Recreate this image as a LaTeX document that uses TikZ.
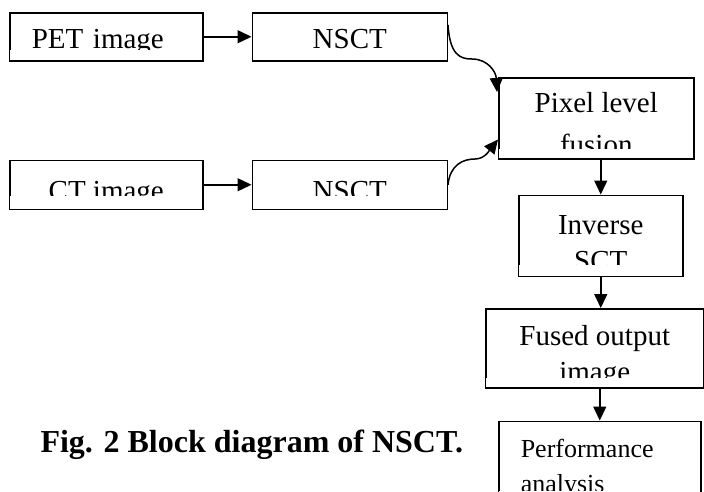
\documentclass[tikz,border=0pt]{standalone}
\usepackage{fontspec}
\setmainfont{Liberation Serif}
\usepackage{tikz}
\usetikzlibrary{arrows.meta,positioning,calc}

\tikzset{
    block/.style={draw, line width=1.5pt, inner xsep=0pt, inner ysep=0pt,
        font=\fontsize{29}{36}\selectfont, align=center,
        text height=36pt, text depth=12pt, minimum height=48pt},
    tall/.style={text height=74pt, text depth=7pt, minimum height=81pt},
    link/.style={->, line width=1.5pt}
}

\begin{document}
\begin{tikzpicture}[x=1pt,y=1pt,>={Triangle[length=14pt,width=13pt]}]
    \useasboundingbox (0,0) rectangle (704,-491);

    % input branch
    \node [block, minimum width=193pt, text width=149pt, align=left] (pet) [anchor=north west] at (9,-12) {PET image};
    \node [block, minimum width=195pt] (nsctA) [right=48pt of pet] {NSCT};
    \node [block, minimum width=193pt, text height=40pt, text depth=9pt] (ct) [below=98pt of pet] {CT image};
    \node [block, minimum width=195pt, text height=40pt, text depth=9pt] (nsctB) [right=48pt of ct] {NSCT};

    % fusion chain
    \node [block, tall, minimum width=195pt, text height=77pt, text depth=4pt, font=\fontsize{29}{42}\selectfont] (pix) [anchor=north west] at (498,-77) {Pixel level\\fusion};
    \node [block, tall, minimum width=164pt, text height=75pt, text depth=6pt] (inv) [below=35pt of pix, xshift=4.5pt] {Inverse\\SCT};
    \node [block, tall, minimum width=218pt, text height=73pt, text depth=6pt, minimum height=79pt] (fused) [below=31pt of inv, xshift=-6pt] {Fused output\\image};
    % with a text width the first line sets the height
    \node [block, tall, minimum width=202pt, text height=36pt, text depth=45pt, text width=158pt, align=left, font=\fontsize{26}{35}\selectfont] (perf) [below=32pt of fused, xshift=5pt] {Performance\\analysis};

    % text boxes cut their last line
    \foreach \n/\h in {pet/12,nsctA/12,ct/14,nsctB/14,pix/11,inv/12,fused/11,perf/12}
        \fill[white] ($(\n.south west)+(1.2pt,1.2pt)$) rectangle ($(\n.south east)+(-1.2pt,\h pt)$);

    \node [font=\bfseries\fontsize{32}{38}\selectfont, anchor=base west] (cap) at (37,-452) {Fig. 2 Block diagram of NSCT.};

    \draw[link] (pet) -- (nsctA);
    \draw[link] (ct) -- (nsctB);
    \draw[link] ($(nsctA.north east)+(0,-13pt)$) .. controls +(2pt,-30pt) and +(-12pt,0) .. (472,-59)
        .. controls +(16pt,0) and +(-1pt,20pt) .. ($(pix.north west)+(-1pt,-15pt)$);
    \draw[link] (nsctB.east) .. controls +(2pt,20pt) and +(-12pt,0) .. (475,-159)
        .. controls +(10pt,0) and +(-8pt,-10pt) .. ($(pix.south west)+(0,20pt)$);
    \draw[link] (pix.south -| inv.north) -- (inv.north);
    \draw[link] (inv.south) -- (inv.south |- fused.north);
    \draw[link] (fused.south -| perf.north) -- (perf.north);

\end{tikzpicture}
\end{document}
